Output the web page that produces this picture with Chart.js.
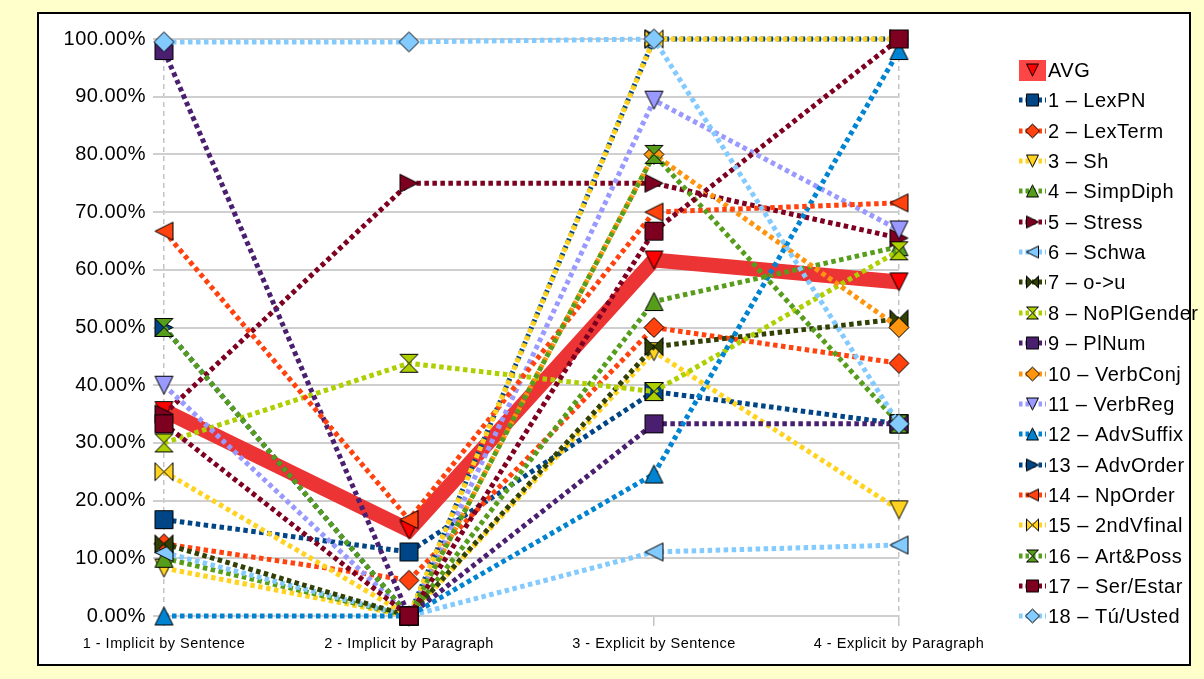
<!DOCTYPE html>
<html>
<head>
<meta charset="utf-8">
<script src="https://cdn.jsdelivr.net/npm/chart.js@4/dist/chart.umd.min.js"></script>
<style>
  html, body { margin: 0; padding: 0; background: #FFFFCC; }
  #wrap { position: absolute; left: 0; top: 0; width: 1204px; height: 679px; }
</style>
</head>
<body>
<div id="wrap"><canvas id="chart" width="1204" height="679"></canvas></div>
<script>
// ---- data (percent) ----
const categories = ['1 - Implicit by Sentence', '2 - Implicit by Paragraph', '3 - Explicit by Sentence', '4 - Explicit by Paragraph'];
const seriesNames = ['AVG', '1 – LexPN', '2 – LexTerm', '3 – Sh', '4 – SimpDiph', '5 – Stress', '6 – Schwa', '7 – o->u',
  '8 – NoPlGender', '9 – PlNum', '10 – VerbConj', '11 – VerbReg', '12 – AdvSuffix', '13 – AdvOrder', '14 – NpOrder',
  '15 – 2ndVfinal', '16 – Art&Poss', '17 – Ser/Estar', '18 – Tú/Usted'];
const avg          = [35.6, 14.9, 61.7, 57.9];
const lexPN        = [16.7, 11.1, 38.9, 33.3];
const lexTerm      = [12.5, 6.2, 50.0, 43.8];
const sh           = [8.3, 0, 45.8, 18.4];
const simpDiph     = [10.0, 0, 54.5, 64.0];
const stress       = [35.0, 75.0, 75.0, 65.5];
const schwa        = [11.0, 0, 11.1, 12.3];
const oToU         = [12.5, 0, 46.7, 51.5];
const noPlGender   = [30.0, 43.8, 38.9, 63.3];
const plNum        = [98.0, 0, 33.3, 33.3];
const verbConj     = [null, 0, 80.0, 50.0];
const verbReg      = [40.0, 0, 89.4, 66.9];
const advSuffix    = [0, 0, 24.6, 98.0];
const advOrder     = [50.0, 0, 100, 100];
const npOrder      = [66.7, 16.7, 70.0, 71.6];
const secondVfinal = [25.0, 0, 100, 100];
const artPoss      = [50.0, 0, 80.0, 33.3];
const serEstar     = [33.3, 0, 66.7, 100];
const tuUsted      = [99.5, 99.5, 100, 33.3];
const yTickValues  = [0, 10, 20, 30, 40, 50, 60, 70, 80, 90, 100];

const seriesValues = [avg, lexPN, lexTerm, sh, simpDiph, stress, schwa, oToU, noPlGender, plNum,
  verbConj, verbReg, advSuffix, advOrder, npOrder, secondVfinal, artPoss, serEstar, tuUsted];

// ---- styles ----
const lineColors = ['#EC3434', '#004586', '#FF420E', '#FFD320', '#579D1C', '#7E0021', '#83CAFF', '#314004', '#AECF00',
  '#4B1F6F', '#FF950E', '#9999FF', '#0084D1', '#004586', '#FF420E', '#FFD320', '#579D1C', '#7E0021', '#83CAFF'];
const markerFills = ['#FF0000'].concat(lineColors.slice(1));
const markerShapes = ['triDown', 'square', 'diamond', 'triDown', 'triUp', 'triRight', 'triLeft', 'bowtie', 'hourglass',
  'square', 'diamond', 'triDown', 'triUp', 'triRight', 'triLeft', 'bowtie', 'hourglass', 'square', 'diamond'];

const FONT = '"Liberation Sans", Arial, sans-serif';

function tracePath(g, shape, cx, cy, s) {
  const h = s / 2;
  const l = cx - h, r = cx + h, t = cy - h, b = cy + h;
  g.beginPath();
  switch (shape) {
    case 'square':
      g.rect(l, t, s, s); break;
    case 'diamond':
      g.moveTo(cx, t); g.lineTo(r, cy); g.lineTo(cx, b); g.lineTo(l, cy); g.closePath(); break;
    case 'triDown':
      g.moveTo(l, t); g.lineTo(r, t); g.lineTo(cx, b); g.closePath(); break;
    case 'triUp':
      g.moveTo(cx, t); g.lineTo(r, b); g.lineTo(l, b); g.closePath(); break;
    case 'triRight':
      g.moveTo(l, t); g.lineTo(r, cy); g.lineTo(l, b); g.closePath(); break;
    case 'triLeft':
      g.moveTo(r, t); g.lineTo(l, cy); g.lineTo(r, b); g.closePath(); break;
    case 'bowtie':
      g.moveTo(l, t); g.lineTo(r, b); g.lineTo(r, t); g.lineTo(l, b); g.closePath(); break;
    case 'hourglass':
      g.moveTo(l, t); g.lineTo(r, t); g.lineTo(l, b); g.lineTo(r, b); g.closePath(); break;
  }
}

function makeMarker(shape, fill, size) {
  const s = shape === 'diamond' ? size + 2 : size;
  const c = document.createElement('canvas');
  c.width = c.height = Math.ceil(s + 3);
  const g = c.getContext('2d');
  tracePath(g, shape, c.width / 2, c.height / 2, s);
  g.fillStyle = fill;
  g.fill();
  g.lineWidth = 1;
  g.strokeStyle = '#000';
  g.stroke();
  return c;
}

const chartMarkers = markerShapes.map((sh, i) => makeMarker(sh, markerFills[i], 18));
const legendMarkers = markerShapes.map((sh, i) => makeMarker(sh, markerFills[i], 12));

const N = seriesNames.length;
const datasets = seriesNames.map((name, i) => ({
  label: name,
  data: seriesValues[i],
  borderColor: lineColors[i],
  backgroundColor: markerFills[i],
  borderWidth: i === 0 ? 15 : 5,
  borderDash: i === 0 ? [] : [4.5, 3.5],
  borderCapStyle: 'butt',
  pointStyle: chartMarkers[i],
  pointRadius: 10,
  pointHoverRadius: 10,
  fill: false,
  tension: 0,
  spanGaps: false,
  clip: false,
  order: N - i
}));

// white frame on the yellow page
const framePlugin = {
  id: 'frame',
  beforeDraw(chart) {
    const ctx = chart.ctx;
    ctx.save();
    ctx.fillStyle = '#FFFFCC';
    ctx.fillRect(0, 0, chart.width, chart.height);
    ctx.fillStyle = '#FFFFFF';
    ctx.fillRect(38, 13, 1152, 652);
    ctx.lineWidth = 2;
    ctx.strokeStyle = '#000000';
    ctx.strokeRect(38, 13, 1152, 652);
    ctx.restore();
    ctx.letterSpacing = '0.5px';
  }
};

// legend at the right: dotted swatch + marker + name
const legendPlugin = {
  id: 'sideLegend',
  afterDraw(chart) {
    const ctx = chart.ctx;
    const x0 = 1019, x1 = 1046, xm = 1032.5, tx = 1048;
    const y0 = 70, step = 30.35;
    ctx.save();
    ctx.letterSpacing = '0.5px';
    chart.data.datasets.forEach((ds, i) => {
      const y = Math.round(y0 + i * step);
      if (i === 0) {
        ctx.fillStyle = '#FF4646';
        ctx.fillRect(x0, y - 10, x1 - x0, 21);
      } else {
        ctx.beginPath();
        ctx.setLineDash([3.5, 3]);
        ctx.lineWidth = 5;
        ctx.strokeStyle = ds.borderColor;
        ctx.moveTo(x0, y);
        ctx.lineTo(x1, y);
        ctx.stroke();
        ctx.setLineDash([]);
      }
      const m = legendMarkers[i];
      ctx.drawImage(m, xm - m.width / 2, y - m.height / 2);
      ctx.fillStyle = '#000';
      ctx.font = '20px ' + FONT;
      ctx.textBaseline = 'middle';
      ctx.textAlign = 'left';
      ctx.fillText(ds.label, tx, y + 1);
    });
    ctx.restore();
  }
};

new Chart(document.getElementById('chart'), {
  type: 'line',
  data: { labels: categories, datasets },
  plugins: [framePlugin, legendPlugin],
  options: {
    responsive: false,
    animation: false,
    devicePixelRatio: 1,
    events: [],
    layout: { padding: { left: 0, top: 39, right: 305, bottom: 0 } },
    plugins: { legend: { display: false }, tooltip: { enabled: false } },
    scales: {
      x: {
        type: 'category',
        offset: false,
        grid: {
          offset: false,
          drawOnChartArea: true,
          color: (c) => (c.index === 0 || c.index === categories.length - 1) ? '#C4C4C4' : 'rgba(0,0,0,0)',
          lineWidth: 1.5,
          tickColor: '#C4C4C4',
          tickLength: 10,
          tickBorderDash: []
        },
        border: { display: false, dash: [5, 4] },
        ticks: {
          color: '#000',
          font: { family: FONT, size: 14.5 },
          padding: 9,
          maxRotation: 0,
          autoSkip: false
        },
        afterFit(scale) { scale.height = 63; }
      },
      y: {
        min: 0,
        max: 100,
        afterBuildTicks(scale) { scale.ticks = yTickValues.map(v => ({ value: v })); },
        grid: { color: '#CFCFCF', lineWidth: 2, tickLength: 11 },
        border: { display: false },
        ticks: {
          color: '#000',
          font: { family: FONT, size: 20 },
          padding: 7,
          callback: (v) => Number(v).toFixed(2) + '%'
        },
        afterFit(scale) { scale.width = 164; }
      }
    }
  }
});
</script>
</body>
</html>
